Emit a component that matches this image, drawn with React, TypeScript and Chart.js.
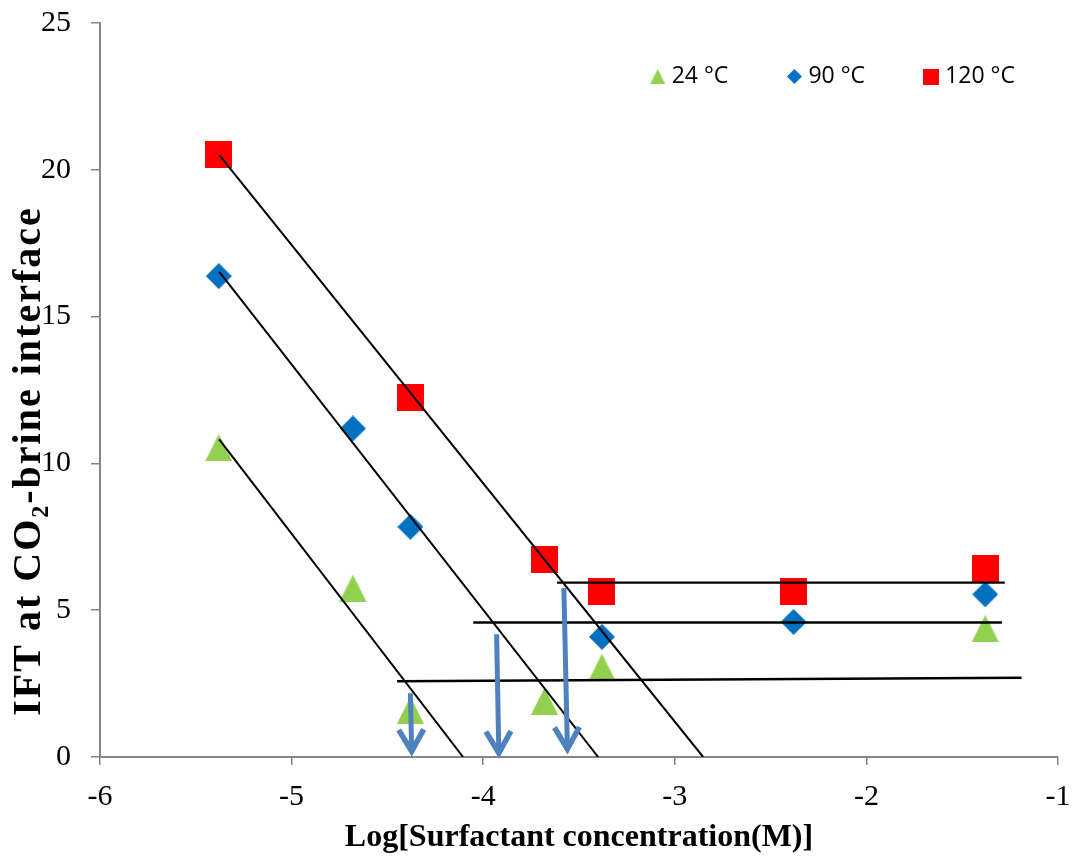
import React, { useEffect, useRef } from "react";
import { Chart, registerables } from "chart.js";
Chart.register(...registerables);

// ---- data ----
const seriesLabels = ["24 °C", "90 °C", "120 °C"];
const seriesColors = ["#92D050", "#0070C0", "#FF0000"];

const series24X = [-5.38, -4.68, -4.38, -3.68, -3.38, -1.38];
const series24Y = [10.54, 5.75, 1.59, 1.9, 3.06, 4.38];
const series90X = [-5.38, -4.68, -4.38, -3.38, -2.38, -1.38];
const series90Y = [16.38, 11.19, 7.84, 4.09, 4.6, 5.54];
const series120X = [-5.38, -4.38, -3.68, -3.38, -2.38, -1.38];
const series120Y = [20.53, 12.25, 6.73, 5.62, 5.65, 6.41];

// fitted trend lines (two end points each)
const fit24X = [-5.378, -4.105];
const fit24Y = [10.82, 0];
const fit90X = [-5.378, -3.4];
const fit90Y = [16.53, 0];
const fit120X = [-5.378, -2.852];
const fit120Y = [20.51, 0];
const plateau24X = [-4.449, -1.19];
const plateau24Y = [2.58, 2.7];
const plateau90X = [-4.052, -1.292];
const plateau90Y = [4.58, 4.58];
const plateau120X = [-3.614, -1.278];
const plateau120Y = [5.94, 5.94];

// CMC arrows: start (x,y) -> tip (x,y)
const arrow24X = [-4.38, -4.373];
const arrow24Y = [2.17, 0.06];
const arrow90X = [-3.93, -3.918];
const arrow90Y = [4.18, 0.0];
const arrow120X = [-3.579, -3.56];
const arrow120Y = [5.75, 0.14];

const xTicks = [-6, -5, -4, -3, -2, -1];
const yTicks = [0, 5, 10, 15, 20, 25];
const xTitle = "Log[Surfactant concentration(M)]";
const yTitle = "IFT at CO\u2082-brine interface";

const pts = (xs: number[], ys: number[]) => xs.map((x, i) => ({ x, y: ys[i] }));

function makeMarker(shape: string, w: number, h: number, color: string) {
  const c = document.createElement("canvas");
  c.width = w;
  c.height = h;
  const g = c.getContext("2d")!;
  g.fillStyle = color;
  g.beginPath();
  if (shape === "triangle") {
    g.moveTo(w / 2, 0);
    g.lineTo(w, h);
    g.lineTo(0, h);
  } else if (shape === "diamond") {
    g.moveTo(w / 2, 0);
    g.lineTo(w, h / 2);
    g.lineTo(w / 2, h);
    g.lineTo(0, h / 2);
  } else {
    g.rect(0, 0, w, h);
  }
  g.closePath();
  g.fill();
  return c;
}

const zeroPad = (s: any) => {
  s.paddingLeft = 0;
  s.paddingRight = 0;
  s.paddingTop = 0;
  s.paddingBottom = 0;
};

export default function App() {
  const ref = useRef<HTMLCanvasElement>(null);
  useEffect(() => {
    document.body.style.margin = "0";
    const canvas = ref.current!;
    const markers = [
      makeMarker("triangle", 27, 27, seriesColors[0]),
      makeMarker("diamond", 26, 26, seriesColors[1]),
      makeMarker("square", 27, 27, seriesColors[2]),
    ];
    const legendMarkers = [
      makeMarker("triangle", 15, 15, seriesColors[0]),
      makeMarker("diamond", 15, 15, seriesColors[1]),
      makeMarker("square", 16, 16, seriesColors[2]),
    ];

    const lineDs = (xs: number[], ys: number[], w: number) => ({
      label: "",
      data: pts(xs, ys),
      showLine: true,
      borderColor: "#000000",
      borderWidth: w,
      pointRadius: 0,
      fill: false,
      order: 1,
    });

    const legendPlugin = {
      id: "insideLegend",
      afterDraw(chart: any) {
        const c = chart.ctx;
        c.save();
        c.font = '23px "Open Sans"';
        c.fillStyle = "#000";
        c.textBaseline = "middle";
        c.textAlign = "left";
        const y = 76.5;
        const startX = 657.7;
        const step = 136.7;
        for (let i = 0; i < 3; i++) {
          const cx = startX + i * step;
          const m = legendMarkers[i];
          c.drawImage(m, cx - m.width / 2, y - m.height / 2);
          c.fillText(seriesLabels[i], cx + 14, y);
        }
        c.restore();
      },
    };

    const yTitlePlugin = {
      id: "yTitle",
      afterDraw(chart: any) {
        const c = chart.ctx;
        c.save();
        c.translate(30, 461);
        c.rotate(-Math.PI / 2);
        c.font = 'bold 40px "Liberation Serif"';
        try {
          (c as any).letterSpacing = "2px";
        } catch (e) {}
        c.fillStyle = "#000";
        c.textAlign = "center";
        c.textBaseline = "middle";
        c.fillText(yTitle, 0, 0);
        c.restore();
      },
    };

    const arrowPlugin = {
      id: "arrows",
      afterDatasetsDraw(chart: any) {
        const xs = chart.scales.x;
        const ys = chart.scales.y;
        const c = chart.ctx;
        const list = [
          [arrow24X, arrow24Y],
          [arrow90X, arrow90Y],
          [arrow120X, arrow120Y],
        ];
        c.save();
        c.strokeStyle = "#4F81BD";
        for (const [ax, ay] of list) {
          const x1 = xs.getPixelForValue(ax[0]);
          const y1 = ys.getPixelForValue(ay[0]);
          let x2 = xs.getPixelForValue(ax[1]);
          let y2 = ys.getPixelForValue(ay[1]);
          const dx = x2 - x1;
          const dy = y2 - y1;
          const len = Math.hypot(dx, dy);
          const ux = dx / len;
          const uy = dy / len;
          x2 -= ux * 4;
          y2 -= uy * 4;
          c.lineCap = "butt";
          c.lineWidth = 5;
          c.beginPath();
          c.moveTo(x1, y1);
          c.lineTo(x2 - ux * 3, y2 - uy * 3);
          c.stroke();
          const ang = Math.atan2(uy, ux);
          const a = (30 * Math.PI) / 180;
          const L = 25;
          c.lineWidth = 5.5;
          c.lineJoin = "miter";
          c.beginPath();
          c.moveTo(x2 - L * Math.cos(ang - a), y2 - L * Math.sin(ang - a));
          c.lineTo(x2, y2);
          c.lineTo(x2 - L * Math.cos(ang + a), y2 - L * Math.sin(ang + a));
          c.stroke();
        }
        c.restore();
      },
    };

    const axisGrey = "#868686";
    const chart = new Chart(canvas, {
      type: "scatter",
      data: {
        datasets: [
          {
            label: seriesLabels[0],
            data: pts(series24X, series24Y),
            pointStyle: markers[0] as any,
            pointRadius: 13,
            backgroundColor: seriesColors[0],
            order: 2,
          },
          {
            label: seriesLabels[1],
            data: pts(series90X, series90Y),
            pointStyle: markers[1] as any,
            pointRadius: 13,
            backgroundColor: seriesColors[1],
            order: 2,
          },
          {
            label: seriesLabels[2],
            data: pts(series120X, series120Y),
            pointStyle: markers[2] as any,
            pointRadius: 13,
            backgroundColor: seriesColors[2],
            order: 2,
          },
          lineDs(fit24X, fit24Y, 2),
          lineDs(fit90X, fit90Y, 2),
          lineDs(fit120X, fit120Y, 2),
          lineDs(plateau24X, plateau24Y, 2.4),
          lineDs(plateau90X, plateau90Y, 2.4),
          lineDs(plateau120X, plateau120Y, 2.4),
        ] as any,
      },
      options: {
        responsive: false,
        animation: false,
        events: [],
        layout: { padding: { top: 23, right: 15, left: 0, bottom: 0 } },
        plugins: {
          legend: { display: false },
          tooltip: { enabled: false },
        },
        scales: {
          x: {
            type: "linear",
            min: -6,
            max: -1,
            afterBuildTicks: (s: any) => {
              s.ticks = xTicks.map((v) => ({ value: v }));
            },
            afterFit: (s: any) => {
              s.height = 102;
              zeroPad(s);
            },
            ticks: {
              color: "#000",
              font: { family: '"Liberation Serif"', size: 30 },
              padding: 14,
              maxRotation: 0,
              callback: (v: any) => String(v),
            },
            grid: {
              drawOnChartArea: false,
              drawTicks: true,
              tickLength: 8,
              color: axisGrey,
              lineWidth: 1.5,
            },
            border: { display: true, color: axisGrey, width: 2 },
            title: {
              display: true,
              text: xTitle,
              color: "#000",
              font: { family: '"Liberation Serif"', size: 32, weight: "bold" },
              padding: { top: 0, bottom: 2 },
            },
          },
          y: {
            type: "linear",
            min: 0,
            max: 25,
            afterBuildTicks: (s: any) => {
              s.ticks = yTicks.map((v) => ({ value: v }));
            },
            afterFit: (s: any) => {
              s.width = 100;
              zeroPad(s);
            },
            ticks: {
              color: "#000",
              font: { family: '"Liberation Serif"', size: 30 },
              padding: 20,
              callback: (v: any) => String(v),
            },
            grid: {
              drawOnChartArea: false,
              drawTicks: true,
              tickLength: 9,
              color: axisGrey,
              lineWidth: 1.5,
            },
            border: { display: true, color: axisGrey, width: 2 },
          },
        },
      } as any,
      plugins: [arrowPlugin, legendPlugin, yTitlePlugin],
    });
    return () => chart.destroy();
  }, []);
  return (
    <div style={{ width: 1073, height: 859 }}>
      <canvas ref={ref} width={1073} height={859} style={{ display: "block" }} />
    </div>
  );
}
